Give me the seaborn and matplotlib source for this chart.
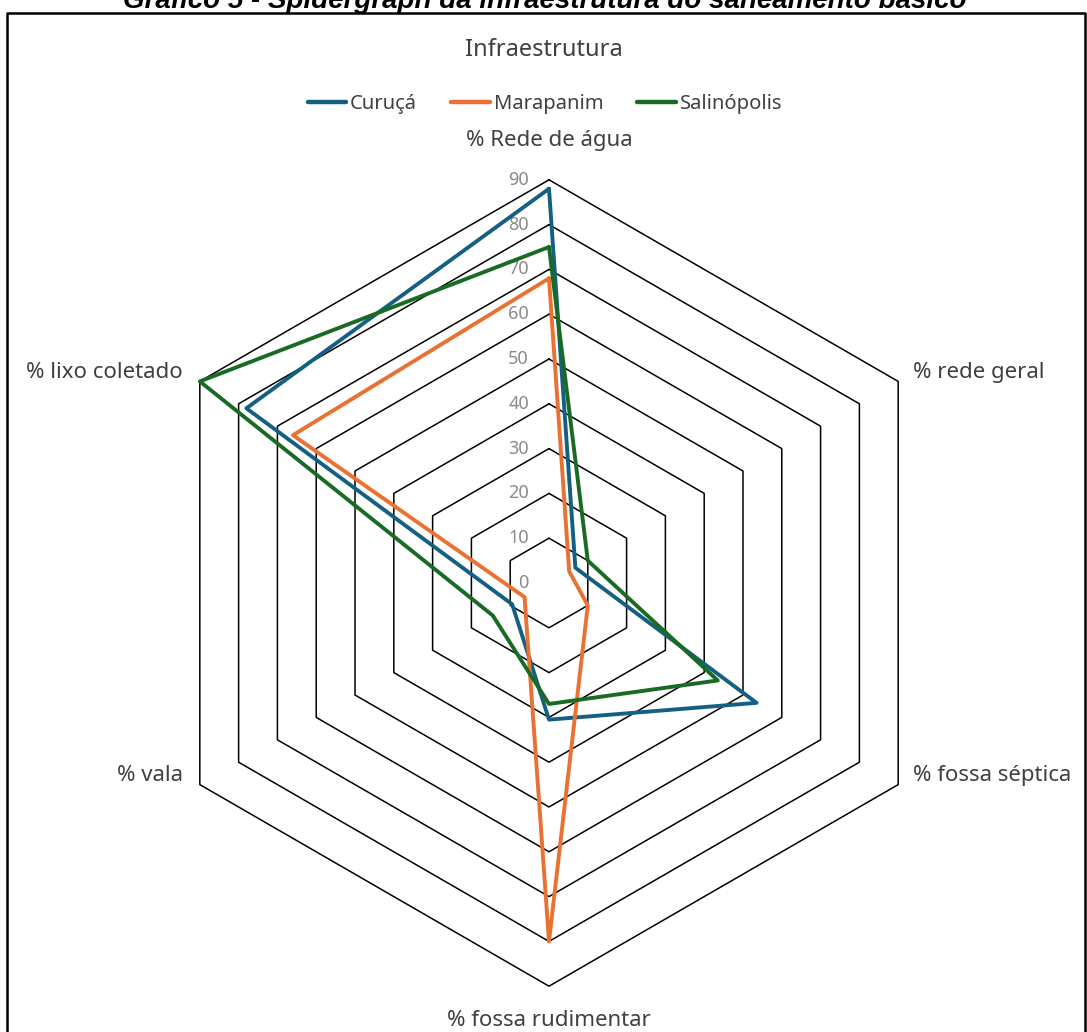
import numpy as np
import pandas as pd
import matplotlib.pyplot as plt
import seaborn as sns
from matplotlib.lines import Line2D

# eixos do radar (sentido horário a partir do topo)
categorias = ["% Rede de água", "% rede geral", "% fossa séptica",
              "% fossa rudimentar", "% vala", "% lixo coletado"]
municipios = ["Curuçá", "Marapanim", "Salinópolis"]
curuca = [88, 6.8, 53.5, 30.5, 9.5, 78]
marapanim = [68, 5.2, 10, 80, 6.3, 66]
salinopolis = [75, 10, 43.5, 27, 14.5, 90]
niveis = [0, 10, 20, 30, 40, 50, 60, 70, 80, 90]

cores = ["#156082", "#E97132", "#196B24"]

W, H = 1087, 1032
cx, cy = 549, 583          # centro do radar em pixels
px_por_unidade = 4.48

angulos = np.deg2rad(90 - 60 * np.arange(len(categorias)))

# monta a tabela com os polígonos fechados
linhas = []
for nome, valores in zip(municipios, [curuca, marapanim, salinopolis]):
    vals = list(valores) + [valores[0]]
    angs = list(angulos) + [angulos[0]]
    for ordem, (v, a) in enumerate(zip(vals, angs)):
        linhas.append({"municipio": nome, "ordem": ordem,
                       "x": v * np.cos(a), "y": v * np.sin(a)})
df = pd.DataFrame(linhas)

sns.set_theme(style="white")
plt.rcParams["font.family"] = ["Noto Sans", "DejaVu Sans"]

fig = plt.figure(figsize=(W / 100, H / 100), dpi=100)
ax = fig.add_axes([0, 0, 1, 1])
ax.set_xlim(-cx / px_por_unidade, (W - cx) / px_por_unidade)
ax.set_ylim(-(H - cy) / px_por_unidade, cy / px_por_unidade)
ax.axis("off")

# grade hexagonal
for n in niveis[1:]:
    hx = n * np.cos(list(angulos) + [angulos[0]])
    hy = n * np.sin(list(angulos) + [angulos[0]])
    ax.plot(hx, hy, color="black", lw=1.1, zorder=1)

# rótulos da escala
for n in niveis:
    ax.annotate(str(n), xy=(0, n), xytext=(-20, 0), textcoords="offset pixels",
                ha="right", va="center", fontsize=13, color="#8a8a8a", zorder=2)

sns.lineplot(data=df, x="x", y="y", hue="municipio", palette=cores,
             sort=False, estimator=None, units="municipio", lw=2.8,
             legend=False, ax=ax, zorder=3)

# rótulos das categorias
rmax = niveis[-1]
offs = [((0, 34), "center", "baseline"),
        ((15, 9), "left", "center"),
        ((15, 9), "left", "center"),
        ((0, -34), "center", "center"),
        ((-17, 9), "right", "center"),
        ((-17, 9), "right", "center")]
for cat, a, (off, ha, va) in zip(categorias, angulos, offs):
    ax.annotate(cat, xy=(rmax * np.cos(a), rmax * np.sin(a)), xytext=off,
                textcoords="offset pixels", ha=ha, va=va, fontsize=16,
                color="#404040")

# título e legenda
fig.text(544 / W, 1 - 50 / H, "Infraestrutura", ha="center", va="center",
         fontsize=17, color="#404040")
handles = [Line2D([], [], color=c, lw=3.2) for c in cores]
fig.legend(handles, municipios, loc="center", bbox_to_anchor=(545 / W, 1 - 104 / H),
           ncol=3, frameon=False, fontsize=14.5, handlelength=1.9,
           handletextpad=0.2, columnspacing=1.7, labelcolor="#404040")

# legenda do documento (cortada no topo) e moldura
fig.text(545 / W, 1 - 8 / H,
         "Gráfico 5 - Spidergraph da infraestrutura do saneamento básico",
         ha="center", va="baseline", fontsize=20, fontweight="bold",
         fontstyle="italic", family="Liberation Sans", color="black")
fig.add_artist(Line2D([7 / W, 7 / W, 1085 / W, 1085 / W],
                      [0, 1 - 13 / H, 1 - 13 / H, 0],
                      transform=fig.transFigure, color="black", lw=1.8))

fig.savefig("out.png", dpi=100, facecolor="white")
